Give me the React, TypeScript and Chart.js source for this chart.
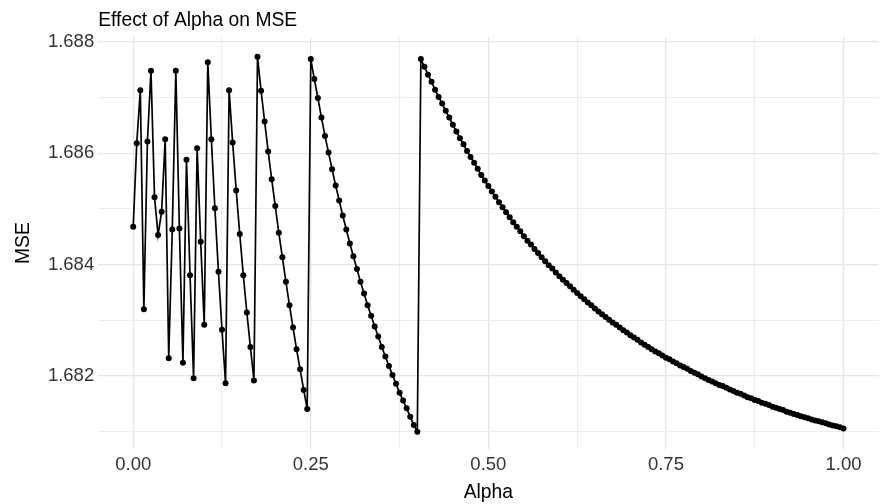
import { useEffect, useRef } from "react";
import { Chart, registerables } from "chart.js";

Chart.register(...registerables);

const FONT = '"Liberation Sans", Arial, "DejaVu Sans", sans-serif';

const chartTitle = "Effect of Alpha on MSE";
const xAxisTitle = "Alpha";
const yAxisTitle = "MSE";

// x values (alpha)
const alpha = [
  0, 0.005, 0.01, 0.015, 0.02, 0.025, 0.03, 0.035, 0.04, 0.045,
  0.05, 0.055, 0.06, 0.065, 0.07, 0.075, 0.08, 0.085, 0.09, 0.095,
  0.1, 0.105, 0.11, 0.115, 0.12, 0.125, 0.13, 0.135, 0.14, 0.145,
  0.15, 0.155, 0.16, 0.165, 0.17, 0.175, 0.18, 0.185, 0.19, 0.195,
  0.2, 0.205, 0.21, 0.215, 0.22, 0.225, 0.23, 0.235, 0.24, 0.245,
  0.25, 0.255, 0.26, 0.265, 0.27, 0.275, 0.28, 0.285, 0.29, 0.295,
  0.3, 0.305, 0.31, 0.315, 0.32, 0.325, 0.33, 0.335, 0.34, 0.345,
  0.35, 0.355, 0.36, 0.365, 0.37, 0.375, 0.38, 0.385, 0.39, 0.395,
  0.4, 0.405, 0.41, 0.415, 0.42, 0.425, 0.43, 0.435, 0.44, 0.445,
  0.45, 0.455, 0.46, 0.465, 0.47, 0.475, 0.48, 0.485, 0.49, 0.495,
  0.5, 0.505, 0.51, 0.515, 0.52, 0.525, 0.53, 0.535, 0.54, 0.545,
  0.55, 0.555, 0.56, 0.565, 0.57, 0.575, 0.58, 0.585, 0.59, 0.595,
  0.6, 0.605, 0.61, 0.615, 0.62, 0.625, 0.63, 0.635, 0.64, 0.645,
  0.65, 0.655, 0.66, 0.665, 0.67, 0.675, 0.68, 0.685, 0.69, 0.695,
  0.7, 0.705, 0.71, 0.715, 0.72, 0.725, 0.73, 0.735, 0.74, 0.745,
  0.75, 0.755, 0.76, 0.765, 0.77, 0.775, 0.78, 0.785, 0.79, 0.795,
  0.8, 0.805, 0.81, 0.815, 0.82, 0.825, 0.83, 0.835, 0.84, 0.845,
  0.85, 0.855, 0.86, 0.865, 0.87, 0.875, 0.88, 0.885, 0.89, 0.895,
  0.9, 0.905, 0.91, 0.915, 0.92, 0.925, 0.93, 0.935, 0.94, 0.945,
  0.95, 0.955, 0.96, 0.965, 0.97, 0.975, 0.98, 0.985, 0.99, 0.995,
  1,
];

// MSE for alpha 0.000 .. 0.245
const mseLowAlpha = [
  1.68468, 1.68618, 1.68713, 1.6832, 1.68621, 1.68748, 1.68521, 1.68453, 1.68495, 1.68625,
  1.68232, 1.68463, 1.68748, 1.68465, 1.68224, 1.68588, 1.68381, 1.68196, 1.68609, 1.68441,
  1.68292, 1.68763, 1.68625, 1.68501, 1.68387, 1.68283, 1.68187, 1.68713, 1.68619, 1.68533,
  1.68455, 1.68381, 1.68314, 1.68252, 1.68192, 1.68773, 1.68712, 1.68657, 1.68603, 1.68553,
  1.68505, 1.68457, 1.68413, 1.68369, 1.68327, 1.68287, 1.68248, 1.68212, 1.68175, 1.68141,
];

// MSE for alpha 0.250 .. 0.400
const mseMidAlpha = [
  1.68769, 1.68733, 1.68699, 1.68664, 1.68631, 1.68601, 1.68571, 1.68542, 1.68515, 1.68488,
  1.68463, 1.68438, 1.68415, 1.68392, 1.68369, 1.68348, 1.68327, 1.68308, 1.68289, 1.68271,
  1.68252, 1.68235, 1.68218, 1.68202, 1.68186, 1.6817, 1.68156, 1.68142, 1.68127, 1.68112,
  1.681,
];

// MSE for alpha 0.405 .. 1.000
const mseHighAlpha = [
  1.68769, 1.68755, 1.68741, 1.68728, 1.68714, 1.68701, 1.68689, 1.68676, 1.68664, 1.68651,
  1.68639, 1.68627, 1.68616, 1.68604, 1.68593, 1.68583, 1.68572, 1.68561, 1.68551, 1.68541,
  1.68531, 1.68522, 1.68512, 1.68503, 1.68494, 1.68485, 1.68476, 1.68468, 1.6846, 1.68451,
  1.68443, 1.68436, 1.68428, 1.68421, 1.68413, 1.68406, 1.68399, 1.68393, 1.68386, 1.68379,
  1.68373, 1.68367, 1.68361, 1.68355, 1.68349, 1.68343, 1.68338, 1.68332, 1.68327, 1.68321,
  1.68316, 1.68311, 1.68306, 1.68301, 1.68296, 1.68292, 1.68287, 1.68282, 1.68278, 1.68273,
  1.68269, 1.68265, 1.6826, 1.68256, 1.68252, 1.68248, 1.68244, 1.68241, 1.68237, 1.68233,
  1.6823, 1.68226, 1.68223, 1.68219, 1.68216, 1.68213, 1.68209, 1.68206, 1.68203, 1.68199,
  1.68196, 1.68193, 1.6819, 1.68187, 1.68184, 1.68182, 1.68179, 1.68176, 1.68173, 1.6817,
  1.68168, 1.68165, 1.68162, 1.6816, 1.68157, 1.68155, 1.68152, 1.6815, 1.68148, 1.68145,
  1.68143, 1.68141, 1.68139, 1.68136, 1.68134, 1.68132, 1.6813, 1.68128, 1.68126, 1.68124,
  1.68122, 1.6812, 1.68119, 1.68117, 1.68115, 1.68113, 1.68111, 1.6811, 1.68108, 1.68106,
];

const xMajorTicks = [0, 0.25, 0.5, 0.75, 1];
const xMinorGrid = [0.125, 0.375, 0.625, 0.875];
const yMajorTicks = [1.682, 1.684, 1.686, 1.688];
const yMinorGrid = [1.681, 1.683, 1.685, 1.687];

const xLimits = [-0.05, 1.05];
const yLimits = [1.68069, 1.68808];

const isIn = (list: number[], v: number) => list.some((t) => Math.abs(t - v) < 1e-9);

const textPlugin = {
  id: "ggTexts",
  afterDraw(chart: any) {
    const { ctx, chartArea } = chart;
    ctx.save();
    ctx.fillStyle = "#000000";
    ctx.font = `19.3px ${FONT}`;
    ctx.textBaseline = "alphabetic";
    ctx.textAlign = "left";
    ctx.fillText(chartTitle, chartArea.left + 0.5, 26);
    ctx.textAlign = "center";
    ctx.fillText(xAxisTitle, (chartArea.left + chartArea.right) / 2, 498);
    ctx.translate(28.6, (chartArea.top + chartArea.bottom) / 2);
    ctx.rotate(-Math.PI / 2);
    ctx.fillText(yAxisTitle, 0, 0);
    ctx.restore();
  },
};

export default function App() {
  const canvasRef = useRef<HTMLCanvasElement | null>(null);

  useEffect(() => {
    const canvas = canvasRef.current;
    if (!canvas) return;
    const mse = [...mseLowAlpha, ...mseMidAlpha, ...mseHighAlpha];
    const points = alpha.map((a, i) => ({ x: a, y: mse[i] }));

    const chart = new Chart(canvas, {
      type: "line",
      data: {
        datasets: [
          {
            data: points,
            borderColor: "#000000",
            backgroundColor: "#000000",
            borderWidth: 1.7,
            pointRadius: 3,
            pointBorderWidth: 0,
            pointHoverRadius: 3,
            pointBackgroundColor: "#000000",
            tension: 0,
            fill: false,
          },
        ],
      },
      options: {
        animation: false,
        responsive: false,
        devicePixelRatio: 1,
        events: [],
        layout: { padding: { left: 0, right: 1.4, top: 37.3, bottom: 0 } },
        plugins: {
          legend: { display: false },
          tooltip: { enabled: false },
          title: { display: false },
        },
        scales: {
          x: {
            type: "linear",
            min: xLimits[0],
            max: xLimits[1],
            afterBuildTicks: (scale: any) => {
              scale.ticks = [...xMajorTicks, ...xMinorGrid]
                .sort((a, b) => a - b)
                .map((v) => ({ value: v }));
            },
            afterFit: (scale: any) => {
              scale.height = 55;
            },
            border: { display: false },
            grid: {
              drawTicks: false,
              color: (c: any) => (c.tick && isIn(xMajorTicks, c.tick.value) ? "#e5e5e5" : "#ededed"),
              lineWidth: (c: any) => (c.tick && isIn(xMajorTicks, c.tick.value) ? 1.3 : 1.1),
            },
            ticks: {
              autoSkip: false,
              maxRotation: 0,
              padding: 5,
              color: "#333333",
              font: { family: FONT, size: 18.5 },
              callback: (v: any) => (isIn(xMajorTicks, Number(v)) ? Number(v).toFixed(2) : ""),
            },
          },
          y: {
            type: "linear",
            min: yLimits[0],
            max: yLimits[1],
            afterBuildTicks: (scale: any) => {
              scale.ticks = [...yMajorTicks, ...yMinorGrid]
                .sort((a, b) => a - b)
                .map((v) => ({ value: v }));
            },
            afterFit: (scale: any) => {
              scale.width = 97.7;
            },
            border: { display: false },
            grid: {
              drawTicks: false,
              color: (c: any) => (c.tick && isIn(yMajorTicks, c.tick.value) ? "#e5e5e5" : "#ededed"),
              lineWidth: (c: any) => (c.tick && isIn(yMajorTicks, c.tick.value) ? 1.3 : 1.1),
            },
            ticks: {
              autoSkip: false,
              padding: 3.5,
              color: "#333333",
              font: { family: FONT, size: 18.5 },
              callback: (v: any) => (isIn(yMajorTicks, Number(v)) ? Number(v).toFixed(3) : ""),
            },
          },
        },
      },
      plugins: [textPlugin],
    });

    return () => {
      chart.destroy();
    };
  }, []);

  return (
    <div style={{ position: "absolute", left: 0, top: 0, width: 882, height: 504, background: "#ffffff" }}>
      <canvas ref={canvasRef} width={882} height={504} style={{ display: "block" }} />
    </div>
  );
}
